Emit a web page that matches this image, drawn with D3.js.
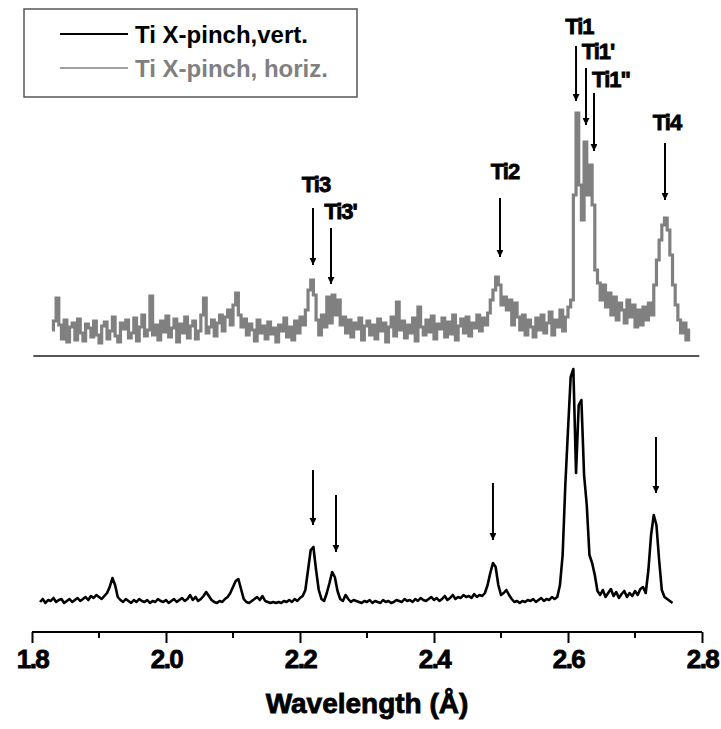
<!DOCTYPE html>
<html>
<head>
<meta charset="utf-8">
<script src="https://cdn.jsdelivr.net/npm/d3@7"></script>
<style>
    body { margin: 0; background: #fff; }
    svg { display: block; font-family: "Liberation Sans", Arial, sans-serif; }
</style>
</head>
<body>
<svg id="chart"></svg>
<script>
// horizontal (gray) spectrum, sampled every 0.004 A from 1.830 A
const horizStart = 1.830;
const horizStep = 0.004;
const horizValues = [
    15, 24, 47, 20, 6, 25, 3, 18, 22, 5, 26, 12, 4, 21, 17, 8, 24, 10, 2, 19,
    23, 6, 14, 28, 9, 3, 22, 16, 25, 7, 12, 27, 4, 18, 30, 9, 15, 49, 10, 20,
    5, 24, 13, 29, 8, 17, 26, 3, 21, 12, 28, 7, 19, 24, 6, 14, 30, 47, 12, 18,
    25, 9, 22, 30, 14, 28, 35, 20, 40, 52, 30, 18, 26, 10, 21, 15, 4, 25, 12, 19,
    6, 23, 11, 17, 3, 20, 14, 27, 8, 18, 5, 24, 12, 28, 20, 35, 55, 65, 50, 25,
    10, 30, 18, 48, 22, 50, 30, 45, 20, 28, 12, 25, 8, 22, 16, 27, 5, 19, 24, 10,
    20, 6, 26, 14, 22, 3, 18, 28, 9, 43, 15, 24, 7, 20, 12, 27, 4, 38, 18, 10,
    25, 13, 29, 6, 21, 16, 27, 8, 23, 11, 30, 5, 19, 26, 12, 28, 9, 22, 17, 30,
    14, 27, 20, 32, 45, 55, 68, 60, 40, 48, 35, 45, 20, 42, 28, 15, 30, 10, 25, 18,
    8, 27, 15, 30, 12, 22, 33, 10, 25, 18, 35, 14, 28, 38, 45, 150, 232, 160, 125, 203,
    150, 180, 140, 75, 62, 45, 60, 38, 52, 30, 48, 25, 42, 35, 22, 45, 28, 40, 18, 35,
    20, 38, 25, 42, 30, 60, 85, 105, 120, 127, 115, 90, 60, 40, 25, 12, 22, 5, 15
];

// vertical (black) spectrum, sampled every 0.004 A from 1.812 A
const vertStart = 1.812;
const vertStep = 0.004;
const vertValues = [
    3, 6, 2, 5, 4, 7, 3, 5, 6, 2, 4, 6, 3, 5, 7, 4, 6, 8, 5, 9,
    7, 10, 8, 6, 9, 12, 18, 27, 20, 8, 5, 3, 6, 4, 2, 5, 3, 6, 4, 3,
    5, 2, 4, 3, 6, 4, 3, 5, 2, 4, 6, 3, 5, 7, 4, 6, 10, 5, 8, 4,
    6, 9, 13, 9, 5, 3, 2, 4, 3, 6, 8, 12, 18, 24, 26, 16, 6, 3, 2, 4,
    6, 8, 5, 9, 4, 3, 2, 3, 2, 3, 2, 4, 3, 5, 3, 6, 4, 7, 9, 15,
    35, 55, 58, 35, 15, 6, 4, 12, 22, 33, 28, 14, 6, 4, 10, 6, 3, 5, 4, 3,
    2, 4, 3, 5, 2, 4, 3, 2, 5, 3, 4, 2, 3, 5, 4, 3, 6, 4, 5, 3,
    6, 4, 7, 5, 4, 6, 8, 5, 7, 4, 6, 9, 5, 7, 10, 6, 8, 7, 10, 8,
    9, 7, 11, 8, 10, 9, 12, 20, 32, 42, 38, 20, 10, 12, 15, 10, 6, 3, 4, 2,
    4, 3, 5, 4, 6, 3, 5, 7, 4, 6, 5, 8, 6, 8, 20, 50, 120, 175, 228, 236,
    132, 200, 205, 130, 100, 50, 42, 30, 14, 10, 15, 8, 12, 16, 9, 13, 7, 11, 14, 8,
    12, 9, 14, 10, 16, 18, 12, 35, 70, 90, 80, 45, 15, 8, 6, 4, 2
];

// line markers on the gray spectrum: wavelength, arrow top / tip (intensity)
const topNames = ["Ti3", "Ti3'", "Ti2", "Ti1", "Ti1'", "Ti1\"", "Ti4"];
const topArrowX = [2.2194, 2.2463, 2.4985, 2.612, 2.6269, 2.6388, 2.7448];
const topArrowFrom = [137, 117, 147, 299, 277, 252, 202];
const topArrowTo = [80, 61, 88, 244, 220, 194, 145];
const topLabelX = [2.2239, 2.2604, 2.506, 2.617, 2.6448, 2.6642, 2.7478];
const topLabelY = [153, 126, 166, 311, 286, 258, 215];

// arrows on the black spectrum
const botArrowX = [2.2194, 2.2537, 2.488, 2.7313];
const botArrowFrom = [135, 110, 122, 168];
const botArrowTo = [80, 53, 65, 112];

const xTicks = [1.8, 2.0, 2.2, 2.4, 2.6, 2.8];
const xMinorTicks = [1.9, 2.1, 2.3, 2.5, 2.7];

const legendNames = ["Ti X-pinch,vert.", "Ti X-pinch, horiz."];
const legendColors = ["#000000", "#808080"];

width = 721;
height = 729;

const svg = d3.select("#chart")
    .attr("width", width)
    .attr("height", height);

x = d3.scaleLinear()
    .domain([1.8, 2.8])
    .range([32, 702]);

yTop = d3.scaleLinear()
    .domain([0, 240])
    .range([345, 105]);

yBot = d3.scaleLinear()
    .domain([0, 240])
    .range([605, 365]);

const horiz = horizValues.map((v, i) => ({ w: horizStart + i * horizStep, v: v }));
const vert = vertValues.map((v, i) => ({ w: vertStart + i * vertStep, v: v }));

// heavy looking text like the original figure
heavy = (sel, size) => sel
    .attr("font-size", size)
    .attr("font-weight", "bold")
    .attr("stroke", "currentColor")
    .attr("stroke-width", 0.8);

svg.append("defs").append("marker")
    .attr("id", "head")
    .attr("viewBox", "0 0 10 10")
    .attr("refX", 10)
    .attr("refY", 5)
    .attr("markerUnits", "userSpaceOnUse")
    .attr("markerWidth", 11)
    .attr("markerHeight", 7)
    .attr("orient", "auto")
    .append("path")
    .attr("d", "M0,0L10,5L0,10Z")
    .attr("fill", "#000");

// spectra
svg.append("path")
    .datum(horiz)
    .attr("fill", "none")
    .attr("stroke", "#808080")
    .attr("stroke-width", 3.2)
    .attr("d", d3.line().curve(d3.curveStep).x(d => x(d.w)).y(d => yTop(d.v)));

svg.append("path")
    .datum(vert)
    .attr("fill", "none")
    .attr("stroke", "#000")
    .attr("stroke-width", 2.6)
    .attr("stroke-linejoin", "round")
    .attr("d", d3.line().x(d => x(d.w)).y(d => yBot(d.v)));

// separator between the two panels
svg.append("line")
    .attr("x1", x(1.802)).attr("x2", x(2.796))
    .attr("y1", yTop(-11)).attr("y2", yTop(-11))
    .attr("stroke", "#555")
    .attr("stroke-width", 2);

// arrows
svg.append("g")
    .selectAll("line")
    .data(topArrowX)
    .join("line")
    .attr("x1", d => x(d)).attr("x2", d => x(d))
    .attr("y1", (d, i) => yTop(topArrowFrom[i]))
    .attr("y2", (d, i) => yTop(topArrowTo[i]))
    .attr("stroke", "#000")
    .attr("stroke-width", 2)
    .attr("marker-end", "url(#head)");

svg.append("g")
    .selectAll("line")
    .data(botArrowX)
    .join("line")
    .attr("x1", d => x(d)).attr("x2", d => x(d))
    .attr("y1", (d, i) => yBot(botArrowFrom[i]))
    .attr("y2", (d, i) => yBot(botArrowTo[i]))
    .attr("stroke", "#000")
    .attr("stroke-width", 2)
    .attr("marker-end", "url(#head)");

svg.append("g")
    .selectAll("text")
    .data(topNames)
    .join("text")
    .attr("x", (d, i) => x(topLabelX[i]))
    .attr("y", (d, i) => yTop(topLabelY[i]))
    .attr("text-anchor", "middle")
    .attr("letter-spacing", -1)
    .call(heavy, 22)
    .text(d => d);

// x axis
xAxis = g => g
    .attr("transform", `translate(0,632)`)
    .call(d3.axisBottom(x).tickValues(xTicks).tickFormat(d3.format(".1f")).tickSize(11).tickPadding(7))
    .call(g => g.select(".domain").attr("stroke-width", 2).attr("d", `M${x(1.8)},0H${x(2.8)}`))
    .call(g => g.selectAll(".tick line").attr("stroke-width", 2))
    .call(g => g.selectAll(".tick text")
        .attr("font-family", "Liberation Sans, Arial, sans-serif")
        .attr("letter-spacing", -1.5)
        .attr("fill", "#000")
        .call(heavy, 26));

svg.append("g")
    .call(xAxis);

svg.append("g")
    .attr("transform", `translate(0,632)`)
    .selectAll("line")
    .data(xMinorTicks)
    .join("line")
    .attr("x1", d => x(d)).attr("x2", d => x(d))
    .attr("y1", 0).attr("y2", 6)
    .attr("stroke", "#000")
    .attr("stroke-width", 2);

svg.append("text")
    .attr("x", x(2.3))
    .attr("y", 713)
    .attr("text-anchor", "middle")
    .call(heavy, 28)
    .text("Wavelength (Å)");

// legend
const legend = svg.append("g");

legend.append("rect")
    .attr("x", 24).attr("y", 9)
    .attr("width", 333).attr("height", 88)
    .attr("fill", "#fff")
    .attr("stroke", "#555")
    .attr("stroke-width", 1.5);

legend.selectAll("line")
    .data(legendNames)
    .join("line")
    .attr("x1", 60).attr("x2", 128)
    .attr("y1", (d, i) => 34 + i * 34)
    .attr("y2", (d, i) => 34 + i * 34)
    .attr("stroke", (d, i) => legendColors[i])
    .attr("stroke-width", (d, i) => i == 0 ? 2 : 1.5);

legend.selectAll("text")
    .data(legendNames)
    .join("text")
    .attr("x", 135)
    .attr("y", (d, i) => 43 + i * 34)
    .attr("font-size", 24)
    .attr("font-weight", "bold")
    .attr("fill", (d, i) => legendColors[i])
    .text(d => d);
</script>
</body>
</html>
